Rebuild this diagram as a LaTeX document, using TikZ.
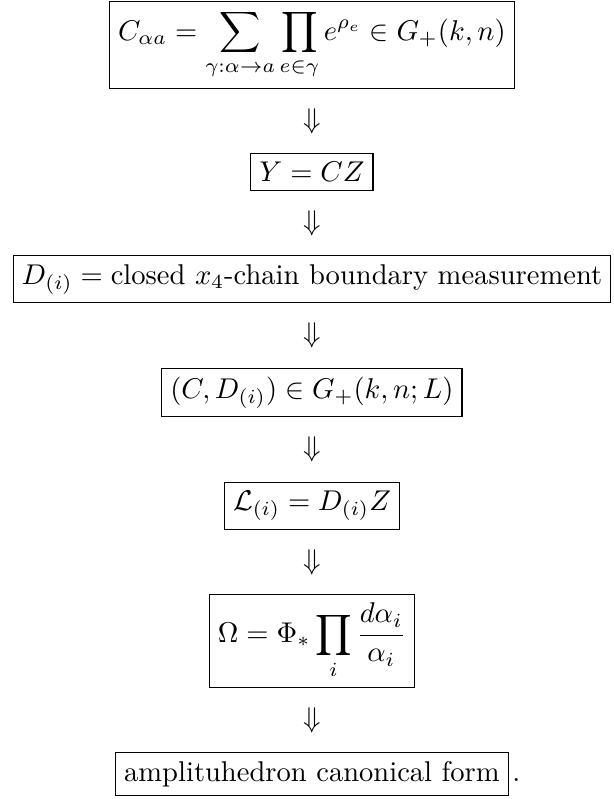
\documentclass[tikz,border=0pt]{standalone}
\usepackage{amsmath,amssymb}
\usetikzlibrary{positioning}

\begin{document}
\begin{tikzpicture}[
    node distance=22.5pt,
    eqbox/.style={draw, line width=0.4pt, inner sep=3pt, align=center},
    implies/.style={inner sep=0pt}
]
  \useasboundingbox (-109.2pt,0pt) rectangle (105.4pt,-279.7pt);

  \node[eqbox, anchor=north] (coord) at (0,-0.3pt)
    {$\displaystyle C_{\alpha a} = \sum_{\gamma:\alpha\to a}\prod_{e\in\gamma} e^{\rho_e} \in G_+(k,n)$};
  \node[eqbox, below=of coord] (proj) {$Y = CZ$};
  \node[eqbox, below=of proj] (meas)
    {$D_{(i)} = \text{closed } x_4\text{-chain boundary measurement}$};
  \node[eqbox, below=of meas] (loopgr) {$(C, D_{(i)}) \in G_+(k,n;L)$};
  \node[eqbox, below=of loopgr] (lines) {$\mathcal{L}_{(i)} = D_{(i)} Z$};
  \node[eqbox, below=of lines] (form)
    {$\displaystyle \Omega = \Phi_* \prod_i \frac{d\alpha_i}{\alpha_i}$};
  \node[eqbox, below=of form] (canon) {amplituhedron canonical form};
  \node[anchor=base west, inner sep=1pt] (stop) at (canon.base east) {.};

  \path (coord.south) -- node[implies] (i1) {$\Downarrow$} (proj.north);
  \path (proj.south) -- node[implies] (i2) {$\Downarrow$} (meas.north);
  \path (meas.south) -- node[implies] (i3) {$\Downarrow$} (loopgr.north);
  \path (loopgr.south) -- node[implies] (i4) {$\Downarrow$} (lines.north);
  \path (lines.south) -- node[implies] (i5) {$\Downarrow$} (form.north);
  \path (form.south) -- node[implies] (i6) {$\Downarrow$} (canon.north);
\end{tikzpicture}
\end{document}
